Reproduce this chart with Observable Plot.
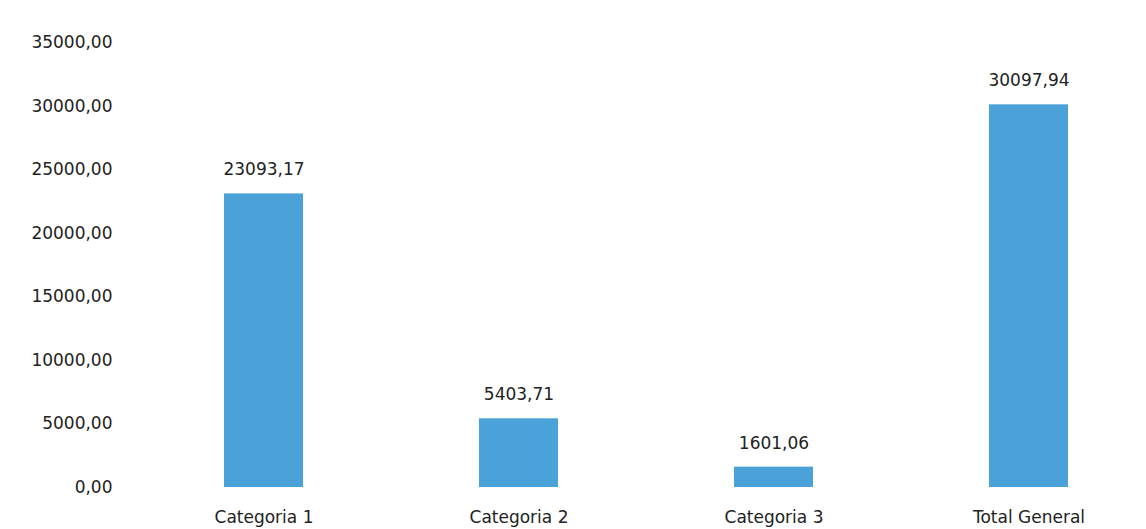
<!DOCTYPE html>
<html>
<head>
<meta charset="utf-8">
<script src="https://cdn.jsdelivr.net/npm/d3@7"></script>
<script src="https://cdn.jsdelivr.net/npm/@observablehq/plot@0.6"></script>
<style>
  html, body { margin: 0; padding: 0; background: #fff; }
  #chart svg { display: block; }
</style>
</head>
<body>
<div id="chart"></div>
<script>
const categories = ["Categoria 1", "Categoria 2", "Categoria 3", "Total General"];
const values = [23093.17, 5403.71, 1601.06, 30097.94];
const yTicks = [0, 5000, 10000, 15000, 20000, 25000, 30000, 35000];

const data = categories.map((c, i) => ({category: c, value: values[i]}));
const loc = d3.formatLocale({decimal: ",", thousands: "", grouping: [3], currency: ["", ""]});
const fmt = loc.format(".2f");

const chart = Plot.plot({
  width: 1146,
  height: 529,
  marginTop: 42,
  marginBottom: 42,
  marginLeft: 135,
  marginRight: 0,
  style: {fontFamily: "'DejaVu Sans', sans-serif", fontSize: "17px", color: "#222", background: "#fff", overflow: "visible"},
  x: {domain: categories, range: [135, 1158], paddingInner: 0.69, paddingOuter: 0.345, label: null},
  y: {domain: [0, 35000], label: null},
  marks: [
    Plot.gridY(yTicks, {stroke: "#ececec", strokeOpacity: 1, x1: 135, x2: 1146}),
    Plot.axisY(yTicks, {tickSize: 0, tickPadding: 23, tickFormat: fmt, label: null, fontSize: 17, fill: "#222"}),
    Plot.axisX({tickSize: 0, tickPadding: 23, label: null, fontSize: 17, fill: "#222"}),
    Plot.barY(data, {x: "category", y: "value", fill: "#4ba2d8"}),
    Plot.text(data, {x: "category", y: "value", text: d => fmt(d.value), dy: -24, fontSize: 17, fill: "#222"})
  ]
});
document.getElementById("chart").appendChild(chart);
</script>
</body>
</html>
